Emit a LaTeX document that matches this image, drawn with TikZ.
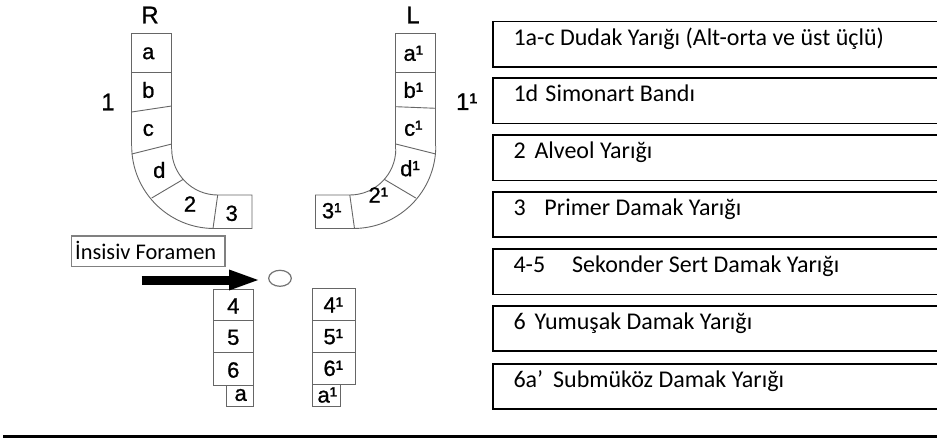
\documentclass[tikz,border=0pt]{standalone}
\usepackage{fontspec}
\newfontfamily\calfont{Carlito}
\newfontfamily\arialfont{Liberation Sans}[FakeBold=0.9]
\usetikzlibrary{arrows.meta,shapes.geometric}
\begin{document}
\begin{tikzpicture}[x=1pt,y=-1pt,
  seg/.style={draw=black!60, line width=0.9pt},
  lett/.style={font=\arialfont\fontsize{22}{22}\selectfont, inner sep=0pt},
  big/.style={font=\arialfont\fontsize{24}{24}\selectfont, inner sep=0pt},
  legbox/.style={draw=black, line width=1.8pt, minimum width=480pt, minimum height=45.3pt, anchor=north west, inner sep=0pt},
  legtext/.style={font=\calfont\fontsize{24}{24}\selectfont, anchor=base west, inner sep=0pt}]
\useasboundingbox (0,0) rectangle (937,441);
\clip (0,0) rectangle (937,441);
\fill[white] (0,0) rectangle (937,441);

% ---- R shape
\draw[seg] (131.7,146) -- (131.7,33) -- (171.7,33) -- (171.7,149);
\draw[seg] (131.7,146) .. controls (131.7,191.6) and (168.6,228.5) .. (214.2,228.5) -- (252,228.5) -- (252,195) -- (217.7,195) .. controls (192.3,195) and (171.7,174.4) .. (171.7,149);
\draw[seg] (131.7,72) -- (171.7,72);
\draw[seg] (131.7,112) -- (171.7,106);
\draw[seg] (131.7,154) -- (171.7,144);
\draw[seg] (151.7,198) -- (183.3,179.3);
\draw[seg] (217.7,195) -- (213,228.5);

% ---- L shape (mirror)
\begin{scope}[xshift=567.5pt, xscale=-1]
\draw[seg] (131.7,146) -- (131.7,33) -- (171.7,33) -- (171.7,149);
\draw[seg] (131.7,146) .. controls (131.7,191.6) and (168.6,228.5) .. (214.2,228.5) -- (252,228.5) -- (252,195) -- (217.7,195) .. controls (192.3,195) and (171.7,174.4) .. (171.7,149);
\draw[seg] (131.7,72) -- (171.7,72);
\draw[seg] (131.7,154) -- (171.7,144);
\draw[seg] (151.7,198) -- (183.3,179.3);
\draw[seg] (217.7,195) -- (213,228.5);
\end{scope}
\draw[seg] (395.8,106.7) -- (435.8,108.3);

% ---- labels R
\node[big] (labR) at (150,15) {R};
\node[big] (lab1) at (108,102) {1};
\node[lett] (ra) at (148.3,53.3) {a};
\node[lett] (rb) at (148.3,90) {b};
\node[lett] (rc) at (148.3,130) {c};
\node[lett] (rd) at (159.3,170) {d};
\node[lett] (r2) at (190,204) {2};
\node[lett] (r3) at (231.7,213.3) {3};
% ---- labels L
\node[big] (labL) at (413,15) {L};
\node[big] (lab1p) at (466.7,101.7) {1¹};
\node[lett] (la) at (413.3,53.3) {a¹};
\node[lett] (lb) at (413.3,90) {b¹};
\node[lett] (lc) at (413.3,128.3) {c¹};
\node[lett] (ld) at (410,168.3) {d¹};
\node[lett] (l2) at (378.3,195) {2¹};
\node[lett] (l3) at (331.7,210.7) {3¹};

% ---- lower columns
\draw[seg] (213.3,289.3) rectangle (253.3,385);
\draw[seg] (213.3,320) -- (253.3,320);
\draw[seg] (213.3,352.7) -- (253.3,352.7);
\draw[seg] (226.7,385) rectangle (253.3,406.7);
\draw[seg] (312.7,288.3) rectangle (355,384);
\draw[seg] (312.7,320) -- (355,320);
\draw[seg] (312.7,352.7) -- (355,352.7);
\draw[seg] (312.7,384) rectangle (340,406.7);
\node[lett] (r4) at (233.3,306) {4};
\node[lett] (r5) at (233.3,337.3) {5};
\node[lett] (r6) at (233.3,370) {6};
\node[lett] (r6a) at (240.7,395) {a};
\node[lett] (l4) at (333.3,305) {4¹};
\node[lett] (l5) at (333.3,336.7) {5¹};
\node[lett] (l6) at (333.3,368.3) {6¹};
\node[lett] (l6a) at (327.3,395) {a¹};

% ---- foramen and arrow
\node[ellipse, draw=black!55, line width=1.2pt, minimum width=22.6pt, minimum height=16pt, inner sep=0pt] (foramen) at (280,278.3) {};
\coordinate (arrtail) at (141.7,280);
\draw[line width=9pt, -{Triangle[length=32pt,width=18pt]}, shorten >=7pt] (arrtail) -- (foramen.west |- arrtail);
\node[draw=black!50, line width=1.5pt, minimum width=153.3pt, minimum height=30.7pt, inner sep=0pt] (lblbox) at (148.35,251.35) {};
\node[legtext, font=\calfont\fontsize{22.4}{22.4}\selectfont] (lbltext) at (75,259.3) {İnsisiv Foramen};

% ---- legend boxes
\node[legbox] (b1) at (492.3,20.7) {};
\node[legbox] (b2) at (492.3,77.3) {};
\node[legbox] (b3) at (492.3,134.3) {};
\node[legbox] (b4) at (492.3,190.7) {};
\node[legbox] (b5) at (492.3,248.3) {};
\node[legbox] (b6) at (492.3,305) {};
\node[legbox] (b7) at (492.3,362.7) {};
\node[legtext] (t1) at (513.3,45.1) {1a-c Dudak Yarığı (Alt-orta ve üst üçlü)};
\node[legtext] (t2) at (513.3,101.7) {\makebox[32pt][l]{1d}Simonart Bandı};
\node[legtext] (t3) at (513.3,158.7) {\makebox[21pt][l]{2}Alveol Yarığı};
\node[legtext] (t4) at (513.3,215.1) {\makebox[31pt][l]{3}Primer Damak Yarığı};
\node[legtext] (t5) at (513.3,272.7) {\makebox[58.7pt][l]{4-5}Sekonder Sert Damak Yarığı};
\node[legtext] (t6) at (513.3,329.4) {\makebox[21pt][l]{6}Yumuşak Damak Yarığı};
\node[legtext] (t7) at (513.3,387.1) {\makebox[39.7pt][l]{6a’}Submüköz Damak Yarığı};

% ---- bottom rule
\draw[line width=3pt] (3.3,436.7) -- (937,436.7);
\end{tikzpicture}
\end{document}
